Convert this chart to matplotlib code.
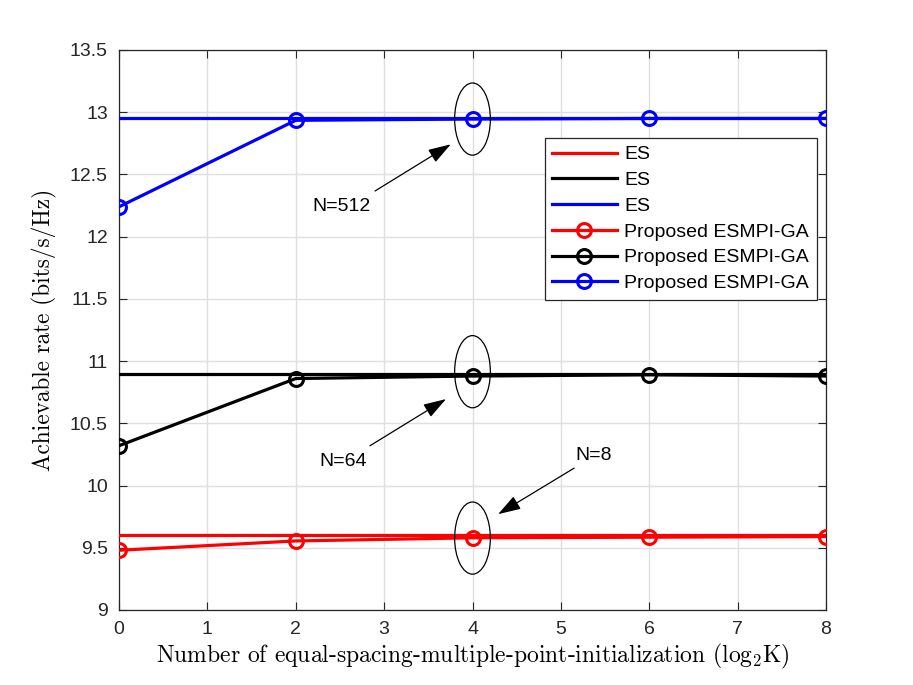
import matplotlib
matplotlib.use("Agg")
import matplotlib.pyplot as plt
from matplotlib.patches import Ellipse

plt.rcParams['font.family'] = ['Liberation Sans', 'DejaVu Sans']
plt.rcParams['mathtext.fontset'] = 'cm'

# Data
x = [0, 2, 4, 6, 8]
es_red = [9.605, 9.605, 9.605, 9.605, 9.605]
es_black = [10.90, 10.90, 10.90, 10.90, 10.90]
es_blue = [12.95, 12.95, 12.95, 12.95, 12.95]
prop_red = [9.48, 9.555, 9.58, 9.585, 9.59]
prop_black = [10.32, 10.86, 10.88, 10.89, 10.88]
prop_blue = [12.24, 12.935, 12.945, 12.95, 12.95]
labels = ['ES', 'ES', 'ES', 'Proposed ESMPI-GA', 'Proposed ESMPI-GA', 'Proposed ESMPI-GA']
xticks = [0, 1, 2, 3, 4, 5, 6, 7, 8]
yticks = [9, 9.5, 10, 10.5, 11, 11.5, 12, 12.5, 13, 13.5]

fig = plt.figure(figsize=(9.13, 6.85), dpi=100)
ax = fig.add_axes([119/913, 75/685, 707/913, 560/685])

lw = 2.3
ax.plot(x, es_red, color='#ff0000', lw=lw, label=labels[0], zorder=3)
ax.plot(x, es_black, color='#000000', lw=lw, label=labels[1], zorder=3)
ax.plot(x, es_blue, color='#0000ff', lw=lw, label=labels[2], zorder=3)
mk = dict(marker='o', markersize=10, markerfacecolor='none', markeredgewidth=2.2)
ax.plot(x, prop_red, color='#ff0000', lw=lw, label=labels[3], zorder=4, **mk)
ax.plot(x, prop_black, color='#000000', lw=lw, label=labels[4], zorder=4, **mk)
ax.plot(x, prop_blue, color='#0000ff', lw=lw, label=labels[5], zorder=4, **mk)

ax.set_xlim(0, 8)
ax.set_ylim(9, 13.5)
ax.set_xticks(xticks)
ax.set_yticks(yticks)
ax.set_xticklabels([f'{v:g}' for v in xticks])
ax.set_yticklabels([f'{v:g}' for v in yticks])
ax.tick_params(direction='in', length=6, width=0.8, top=True, right=True,
               labelsize=14, colors='#262626', pad=8)
ax.grid(True, color='#dfdfdf', lw=1.0, zorder=0)
ax.set_axisbelow(True)
for s in ax.spines.values():
    s.set_color('#262626')
    s.set_linewidth(0.9)

ax.set_xlabel(r'Number of equal-spacing-multiple-point-initialization (log$_2$K)',
              family='cmr10', fontsize=17, labelpad=3)
ax.set_ylabel('Achievable rate (bits/s/Hz)', family='cmr10', fontsize=16.8, labelpad=9)

# ellipses
for yc in [12.945, 10.915, 9.578]:
    ax.add_patch(Ellipse((4, yc), 0.404, 0.58, facecolor='none',
                         edgecolor='black', lw=0.9, zorder=5))

ap = dict(arrowstyle='-|>,head_length=1.4,head_width=0.45', color='black', lw=0.9,
          shrinkA=0, shrinkB=0)
ax.annotate('', xy=(3.754, 12.742), xytext=(2.897, 12.367), arrowprops=ap, zorder=6)
ax.annotate('', xy=(3.70, 10.695), xytext=(2.84, 10.32), arrowprops=ap, zorder=6)
ax.annotate('', xy=(4.29, 9.77), xytext=(5.15, 10.14), arrowprops=ap, zorder=6)
ax.text(2.523, 12.242, 'N=512', fontsize=14, ha='center', va='center', zorder=6)
ax.text(2.535, 10.197, 'N=64', fontsize=14, ha='center', va='center', zorder=6)
ax.text(5.375, 10.245, 'N=8', fontsize=14, ha='center', va='center', zorder=6)

leg = ax.legend(loc='upper right', bbox_to_anchor=(0.987, 0.843), borderaxespad=0,
                fontsize=14, fancybox=False, framealpha=1, edgecolor='#262626',
                handlelength=3.3, labelspacing=0.42, handletextpad=0.4,
                borderpad=0.4)
leg.get_frame().set_linewidth(0.9)
leg.set_zorder(10)

fig.savefig('out.png', dpi=100)
